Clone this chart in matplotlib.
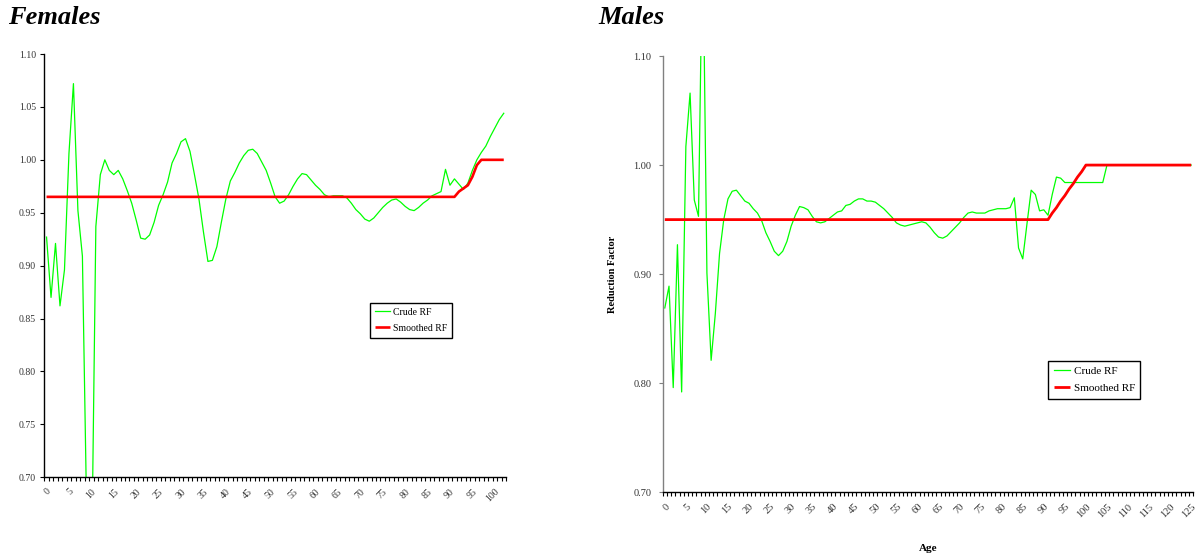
import matplotlib
matplotlib.use("Agg")
import matplotlib.pyplot as plt
import numpy as np

# ---------------- data ----------------
fem_age = list(range(0, 103))
fem_crude = [
    0.927, 0.870, 0.921, 0.862, 0.896, 1.006, 1.072, 0.952, 0.909, 0.654,
    0.596, 0.937, 0.986, 1.000, 0.990, 0.986, 0.990, 0.982, 0.971, 0.959,
    0.943, 0.926, 0.925, 0.929, 0.941, 0.957, 0.967, 0.979, 0.997, 1.006,
    1.017, 1.020, 1.008, 0.986, 0.963, 0.932, 0.904, 0.905, 0.918, 0.941,
    0.963, 0.980, 0.988, 0.997, 1.004, 1.009, 1.010, 1.006, 0.998, 0.990,
    0.978, 0.965, 0.959, 0.961, 0.967, 0.975, 0.982, 0.987, 0.986, 0.981,
    0.976, 0.972, 0.967, 0.965, 0.966, 0.966, 0.966, 0.964, 0.959, 0.953,
    0.949, 0.944, 0.942, 0.945, 0.950, 0.955, 0.959, 0.962, 0.963, 0.960,
    0.956, 0.953, 0.952, 0.955, 0.959, 0.962, 0.966, 0.968, 0.970, 0.991,
    0.976, 0.982, 0.977, 0.972, 0.978, 0.990, 1.000, 1.007, 1.013, 1.022,
    1.030, 1.038, 1.044,
]
fem_smooth = [0.965] * 92 + [0.970, 0.973, 0.976, 0.984, 0.995, 1.000,
                             1.000, 1.000, 1.000, 1.000, 1.000]

male_age = list(range(0, 126))
male_crude = [
    0.869, 0.889, 0.796, 0.927, 0.792, 1.017, 1.066, 0.968, 0.953, 1.220,
    0.901, 0.821, 0.864, 0.919, 0.950, 0.969, 0.976, 0.977, 0.972, 0.967,
    0.965, 0.960, 0.956, 0.949, 0.938, 0.930, 0.921, 0.917, 0.921, 0.930,
    0.944, 0.954, 0.962, 0.961, 0.959, 0.953, 0.948, 0.947, 0.948, 0.951,
    0.954, 0.957, 0.958, 0.963, 0.964, 0.967, 0.969, 0.969, 0.967, 0.967,
    0.966, 0.963, 0.960, 0.956, 0.952, 0.947, 0.945, 0.944, 0.945, 0.946,
    0.947, 0.948, 0.947, 0.943, 0.938, 0.934, 0.933, 0.935, 0.939, 0.943,
    0.947, 0.952, 0.956, 0.957, 0.956, 0.956, 0.956, 0.958, 0.959, 0.960,
    0.960, 0.960, 0.961, 0.970, 0.924, 0.914, 0.946, 0.977, 0.973, 0.958,
    0.959, 0.954, 0.973, 0.989, 0.988, 0.984, 0.984, 0.984, 0.984, 0.984,
    0.984, 0.984, 0.984, 0.984, 0.984, 1.000, 1.000, 1.000, 1.000, 1.000,
    1.000, 1.000, 1.000, 1.000, 1.000, 1.000, 1.000, 1.000, 1.000, 1.000,
    1.000, 1.000, 1.000, 1.000, 1.000, 1.000,
]
male_smooth = [0.950] * 92 + [0.956, 0.961, 0.967, 0.972, 0.978, 0.983,
                              0.989, 0.994, 1.000] + [1.000] * 25

fem_yticks = [0.70, 0.75, 0.80, 0.85, 0.90, 0.95, 1.00, 1.05, 1.10]
male_yticks = [0.70, 0.80, 0.90, 1.00, 1.10]

# ---------------- style ----------------
SERIF = ["Liberation Serif", "DejaVu Serif"]
plt.rcParams["font.family"] = SERIF
GREEN = "#00ff00"
RED = "#ff0000"

W, H = 1197, 554
fig = plt.figure(figsize=(W / 100, H / 100), dpi=100)


def px_axes(x0, y0, x1, y1):
    return fig.add_axes([x0 / W, 1 - y1 / H, (x1 - x0) / W, (y1 - y0) / H])


def style_axes(ax, ages, yticks, fs, spine_color, ypad):
    n = len(ages)
    ax.set_xlim(-0.5, n - 0.5)
    ax.set_ylim(0.70, 1.10)
    for s in ("top", "right"):
        ax.spines[s].set_visible(False)
    ax.spines["left"].set_color(spine_color)
    ax.spines["bottom"].set_color("black")
    ax.spines["left"].set_linewidth(1.0)
    ax.spines["bottom"].set_linewidth(1.0)
    ax.set_yticks(yticks)
    ax.set_yticklabels([f"{v:.2f}" for v in yticks], fontsize=fs, color="#333333")
    ax.tick_params(axis="y", direction="out", length=3, width=0.8, pad=ypad,
                   color=spine_color)
    labels = [a for a in ages if a % 5 == 0]
    ax.set_xticks(labels)
    ax.set_xticklabels([str(a) for a in labels], fontsize=fs, rotation=45,
                       ha="right", rotation_mode="anchor", color="#333333")
    ax.set_xticks(np.arange(-0.5, n, 1.0), minor=True)
    ax.tick_params(axis="x", which="major", length=0, pad=7)
    ax.tick_params(axis="x", which="minor", direction="out", length=3,
                   width=0.8, color="black")


# ---------------- Females ----------------
ax1 = px_axes(44.3, 54, 506, 477.3)
ax1.plot(fem_age, fem_crude, color=GREEN, lw=0.9, label="Crude RF")
ax1.plot(fem_age, fem_smooth, color=RED, lw=1.9, label="Smoothed RF",
         solid_capstyle="butt")
style_axes(ax1, fem_age, fem_yticks, 7, "black", 3)
leg1 = ax1.legend(loc="upper left", bbox_to_anchor=(370 / W, 1 - 303 / H),
                  bbox_transform=fig.transFigure, fontsize=7, frameon=True,
                  fancybox=False, edgecolor="black", framealpha=1,
                  handlelength=1.6, handletextpad=0.3, borderpad=0.5,
                  labelspacing=0.7, borderaxespad=0)
leg1.get_frame().set_linewidth(1.0)

fig.text(8 / W, 1 - 18 / H, "Females", fontsize=19, fontweight="bold",
         fontstyle="italic", va="center", ha="left", family=SERIF)

# ---------------- Males ----------------
ax2 = px_axes(662.7, 56, 1193.3, 492.3)
ax2.plot(male_age, male_crude, color=GREEN, lw=0.9, label="Crude RF")
ax2.plot(male_age, male_smooth, color=RED, lw=2.0, label="Smoothed RF",
         solid_capstyle="butt")
style_axes(ax2, male_age, male_yticks, 7.5, "#808080", 5)
ax2.set_ylabel("Reduction Factor", fontsize=7.5, fontweight="bold", labelpad=12)
ax2.set_xlabel("Age", fontsize=8, fontweight="bold", labelpad=18)
leg2 = ax2.legend(loc="upper left", bbox_to_anchor=(1048 / W, 1 - 361 / H),
                  bbox_transform=fig.transFigure, fontsize=8, frameon=True,
                  fancybox=False, edgecolor="black", framealpha=1,
                  handlelength=1.5, handletextpad=0.3, borderpad=0.5,
                  labelspacing=0.65, borderaxespad=0)
leg2.get_frame().set_linewidth(1.0)

fig.text(598 / W, 1 - 18 / H, "Males", fontsize=19, fontweight="bold",
         fontstyle="italic", va="center", ha="left", family=SERIF)

fig.savefig("out.png", dpi=100)
